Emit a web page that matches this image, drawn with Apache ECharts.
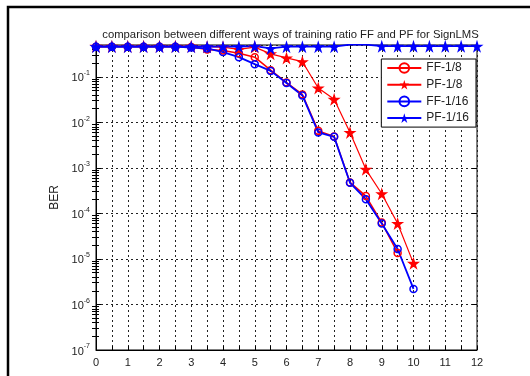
<!DOCTYPE html>
<html>
<head>
<meta charset="utf-8">
<script src="https://cdn.jsdelivr.net/npm/echarts@6/dist/echarts.min.js"></script>
<style>
html,body{margin:0;padding:0;background:#fff;}
#chart{width:530px;height:376px;}
</style>
</head>
<body>
<div id="chart"></div>
<script>
// ---- data ----
const chartTitle = 'comparison between different ways of training ratio FF and PF for SignLMS';
const yAxisName = 'BER';
const seriesNames = ['FF-1/8', 'PF-1/8', 'FF-1/16', 'PF-1/16'];
const xFF8 = [0,0.5,1,1.5,2,2.5,3,3.5,4,4.5,5,5.5,6,6.5,7,7.5,8,8.5,9,9.5];
const berFF8 = [0.46,0.46,0.46,0.46,0.46,0.46,0.45,0.40,0.38,0.33,0.27,0.14,0.075,0.041,0.0065,0.0049,4.8e-4,2.4e-4,6.3e-5,1.35e-5];
const xPF8 = [0,0.5,1,1.5,2,2.5,3,3.5,4,4.5,5,5.5,6,6.5,7,7.5,8,8.5,9,9.5,10];
const berPF8 = [0.47,0.47,0.47,0.47,0.47,0.47,0.47,0.46,0.45,0.40,0.45,0.32,0.26,0.215,0.057,0.032,0.006,9.3e-4,2.7e-4,6.0e-5,8.0e-6];
const xFF16 = [0,0.5,1,1.5,2,2.5,3,3.5,4,4.5,5,5.5,6,6.5,7,7.5,8,8.5,9,9.5,10];
const berFF16 = [0.46,0.46,0.46,0.46,0.46,0.46,0.44,0.42,0.35,0.27,0.19,0.135,0.073,0.039,0.006,0.0048,4.7e-4,2.05e-4,6.0e-5,1.65e-5,2.2e-6];
const xPF16 = [0,0.5,1,1.5,2,2.5,3,3.5,4,4.5,5,5.5,6,6.5,7,7.5,8,8.5,9,9.5,10,10.5,11,11.5,12];
const berPF16 = [0.46,0.46,0.46,0.46,0.46,0.46,0.46,0.46,0.46,0.46,0.47,0.42,0.46,0.46,0.46,0.46,0.51,0.51,0.47,0.47,0.47,0.47,0.47,0.47,0.47];
const targetBER = 1e-5;
const xMin = 0, xMax = 12;
const yMin = 1e-7, yMax = 0.5;

// ---- helpers ----
function zip(xs, ys) { return xs.map((x, i) => [x, ys[i]]); }
function starPath() {
  const pts = [];
  for (let k = 0; k < 10; k++) {
    const r = (k % 2 === 0) ? 50 : 19;
    const a = (-90 + 36 * k) * Math.PI / 180;
    pts.push((50 + r * Math.cos(a)).toFixed(2) + ' ' + (50 + r * Math.sin(a)).toFixed(2));
  }
  return 'path://M' + pts.join(' L') + ' Z';
}
const STAR = starPath();
const minorVals = [];
for (let e = -7; e <= -1; e++) {
  for (let m = 2; m <= 9; m++) {
    const v = m * Math.pow(10, e);
    if (v < yMax) minorVals.push(v);
  }
}
const RED = '#ff0000', BLUE = '#0000ff';
const fontFam = 'Liberation Sans, Arial, sans-serif';

function logLabel(v) {
  const e = Math.log10(v);
  if (Math.abs(e - Math.round(e)) > 1e-6) return '';
  return '{b|10}{s|' + Math.round(e) + '}';
}

const chart = echarts.init(document.getElementById('chart'), null, {renderer: 'canvas'});
const gridLine = {show: true, lineStyle: {color: '#222', type: [2, 3], width: 1}};

chart.setOption({
  backgroundColor: '#fff',
  animation: false,
  title: {
    text: chartTitle, left: 285.5, top: 24, textAlign: 'center',
    textStyle: {fontSize: 11.3, fontWeight: 'normal', color: '#222', fontFamily: fontFam}
  },
  graphic: [{
    type: 'rect', shape: {x: 8, y: 7, width: 540, height: 400},
    style: {fill: 'none', stroke: '#000', lineWidth: 2.5}, silent: true
  }],
  legend: {
    orient: 'vertical', right: 54, top: 59,
    data: seriesNames,
    itemWidth: 34, itemHeight: 12, itemGap: 4.7,
    padding: [3, 7, 3, 5],
    borderColor: '#000', borderWidth: 1, backgroundColor: '#fff',
    textStyle: {fontSize: 12, lineHeight: 12, color: '#222', fontFamily: fontFam}
  },
  grid: {
    left: 96, right: 53, top: 45, bottom: 26,
    show: true, borderColor: '#000', borderWidth: 1, backgroundColor: '#fff'
  },
  xAxis: [{
    type: 'value', min: xMin, max: xMax, interval: 0.5, position: 'bottom',
    axisLine: {show: true, onZero: false, lineStyle: {color: '#000'}},
    axisTick: {show: true, inside: true, length: 4, lineStyle: {color: '#000'}},
    axisLabel: {
      formatter: v => (Math.abs(v - Math.round(v)) < 1e-9 ? String(Math.round(v)) : ''),
      fontSize: 11, color: '#222', fontFamily: fontFam, margin: 7
    },
    splitLine: gridLine
  }, {
    type: 'value', min: xMin, max: xMax, interval: 0.5, position: 'top',
    axisLine: {show: false},
    axisTick: {show: true, inside: true, length: 4, lineStyle: {color: '#000'}},
    axisLabel: {show: false}, splitLine: {show: false}
  }],
  yAxis: [{
    type: 'log', logBase: 10, min: yMin, max: yMax, interval: 1, position: 'left',
    name: yAxisName, nameLocation: 'middle', nameGap: 30,
    nameTextStyle: {fontSize: 12, color: '#222', fontFamily: fontFam},
    axisLine: {show: true, lineStyle: {color: '#000'}},
    axisTick: {show: true, inside: true, length: 5, lineStyle: {color: '#000'}},
    axisLabel: {
      formatter: logLabel, margin: 6, color: '#222', fontFamily: fontFam,
      rich: {
        b: {fontSize: 11, color: '#222', fontFamily: fontFam, verticalAlign: 'bottom'},
        s: {fontSize: 7, color: '#222', fontFamily: fontFam, verticalAlign: 'bottom', padding: [0, 0, 7, 0]}
      }
    },
    splitLine: gridLine
  }, {
    type: 'log', logBase: 10, min: yMin, max: yMax, position: 'right',
    axisLine: {show: false},
    axisTick: {show: true, inside: true, length: 4, customValues: minorVals, lineStyle: {color: '#000'}},
    axisLabel: {show: false}, splitLine: {show: false}
  }, {
    type: 'log', logBase: 10, min: yMin, max: yMax, interval: 1, position: 'right',
    axisLine: {show: false},
    axisTick: {show: true, inside: true, length: 5, lineStyle: {color: '#000'}},
    axisLabel: {show: false}, splitLine: {show: false}
  }, {
    type: 'log', logBase: 10, min: yMin, max: yMax, position: 'left',
    axisLine: {show: false},
    axisTick: {show: true, inside: true, length: 3, customValues: minorVals, lineStyle: {color: '#000'}},
    axisLabel: {show: false}, splitLine: {show: false}
  }],
  series: [{
    name: seriesNames[0], type: 'line', data: zip(xFF8, berFF8),
    symbol: 'circle', symbolSize: 7,
    lineStyle: {color: RED, width: 1.5},
    itemStyle: {color: 'rgba(0,0,0,0)', borderColor: RED, borderWidth: 1.5},
    markLine: {
      silent: true, symbol: 'none', label: {show: false},
      lineStyle: {color: '#e02020', type: 'solid', width: 1},
      data: [{yAxis: targetBER}]
    }
  }, {
    name: seriesNames[1], type: 'line', data: zip(xPF8, berPF8),
    symbol: STAR, symbolSize: 13,
    lineStyle: {color: RED, width: 1.2},
    itemStyle: {color: RED, borderColor: RED, borderWidth: 0}
  }, {
    name: seriesNames[2], type: 'line', data: zip(xFF16, berFF16),
    symbol: 'circle', symbolSize: 7,
    lineStyle: {color: BLUE, width: 1.8},
    itemStyle: {color: 'rgba(0,0,0,0)', borderColor: BLUE, borderWidth: 1.5}
  }, {
    name: seriesNames[3], type: 'line', data: zip(xPF16, berPF16),
    symbol: STAR, symbolSize: 13,
    lineStyle: {color: BLUE, width: 1.8},
    itemStyle: {color: BLUE, borderColor: BLUE, borderWidth: 0}
  }]
});
</script>
</body>
</html>
